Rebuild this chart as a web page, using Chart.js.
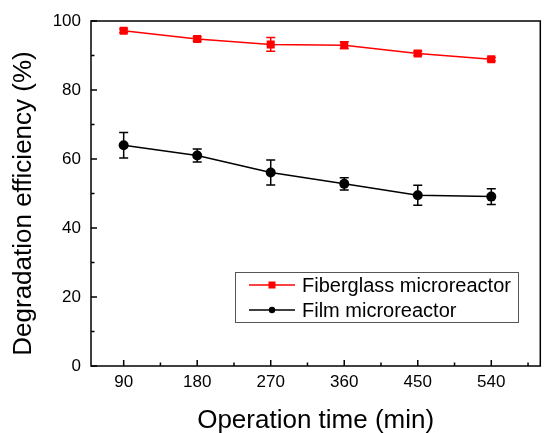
<!DOCTYPE html>
<html>
<head>
<meta charset="utf-8">
<script src="https://cdn.jsdelivr.net/npm/chart.js@4"></script>
<style>
  html, body { margin: 0; padding: 0; background: #fff; }
  #wrap { width: 546px; height: 433px; }
</style>
</head>
<body>
<div id="wrap"><canvas id="chart" width="546" height="433"></canvas></div>
<script>
const times = [90, 180, 270, 360, 450, 540];
const fiberglass = [97.2, 94.8, 93.2, 93.0, 90.6, 88.9];
const fiberglassErr = [0.5, 0.6, 2.0, 1.0, 0.6, 0.5];
const film = [64.0, 61.0, 56.1, 52.8, 49.5, 49.1];
const filmErr = [3.7, 1.9, 3.6, 1.8, 2.9, 2.3];
const yTicks = [0, 20, 40, 60, 80, 100];
const yTitle = "Degradation efficiency (%)";

const FONT = "'Liberation Sans', Arial, sans-serif";

// error bars + inward ticks + frame + legend + y title
const extras = {
  id: "extras",
  afterDatasetsDraw(chart) {
    const ctx = chart.ctx;
    const xs = chart.scales.x, ys = chart.scales.y;
    const a = chart.chartArea;
    ctx.save();
    // error bars
    chart.data.datasets.forEach((ds) => {
      ctx.strokeStyle = ds.borderColor;
      ctx.lineWidth = 1.5;
      ds.data.forEach((p, i) => {
        const e = ds.errors[i];
        const px = xs.getPixelForValue(p.x);
        const top = ys.getPixelForValue(p.y + e);
        const bot = ys.getPixelForValue(p.y - e);
        ctx.beginPath();
        ctx.moveTo(px, top); ctx.lineTo(px, bot);
        ctx.moveTo(px - 4.5, top); ctx.lineTo(px + 4.5, top);
        ctx.moveTo(px - 4.5, bot); ctx.lineTo(px + 4.5, bot);
        ctx.stroke();
      });
    });
    // frame
    ctx.strokeStyle = "#000";
    ctx.lineWidth = 1.5;
    ctx.strokeRect(a.left, a.top, a.right - a.left, a.bottom - a.top);
    // ticks
    ctx.beginPath();
    for (let v = 0; v <= 100; v += 10) {
      const py = ys.getPixelForValue(v);
      const len = v % 20 === 0 ? 6 : 3.5;
      ctx.moveTo(a.left, py); ctx.lineTo(a.left + len, py);
    }
    for (let v = 90; v <= 585; v += 45) {
      const px = xs.getPixelForValue(v);
      const len = v % 90 === 0 ? 6 : 3.5;
      ctx.moveTo(px, a.bottom); ctx.lineTo(px, a.bottom - len);
    }
    ctx.stroke();
    // y title (sits a little below the plot centre in the original)
    ctx.save();
    ctx.translate(24, (a.top + a.bottom) / 2 + 10);
    ctx.rotate(-Math.PI / 2);
    ctx.fillStyle = "#000";
    ctx.font = "26px " + FONT;
    ctx.textAlign = "center";
    ctx.textBaseline = "middle";
    ctx.fillText(yTitle, 0, 0);
    ctx.restore();
    // legend
    const lx = 235, ly = 272, lw = 283, lh = 50;
    ctx.lineWidth = 1;
    ctx.strokeStyle = "#555";
    ctx.fillStyle = "#fff";
    ctx.fillRect(lx, ly, lw, lh);
    ctx.strokeRect(lx + 0.5, ly + 0.5, lw, lh);
    chart.data.datasets.forEach((ds, i) => {
      const cy = ly + 13 + i * 25;
      ctx.strokeStyle = ds.borderColor;
      ctx.lineWidth = 1.5;
      ctx.beginPath();
      ctx.moveTo(249, cy); ctx.lineTo(295, cy);
      ctx.stroke();
      ctx.fillStyle = ds.borderColor;
      if (ds.pointStyle === "rect") {
        ctx.fillRect(268.5, cy - 3.5, 7, 7);
      } else {
        ctx.beginPath();
        ctx.arc(272, cy, 3.2, 0, Math.PI * 2);
        ctx.fill();
      }
      ctx.fillStyle = "#000";
      ctx.font = "20px " + FONT;
      ctx.textBaseline = "middle";
      ctx.textAlign = "left";
      ctx.fillText(ds.label, 302, cy + 1);
    });
    ctx.restore();
  }
};

new Chart(document.getElementById("chart"), {
  type: "line",
  data: {
    datasets: [
      {
        label: "Fiberglass microreactor",
        data: times.map((t, i) => ({ x: t, y: fiberglass[i] })),
        errors: fiberglassErr,
        borderColor: "#ff0000",
        backgroundColor: "#ff0000",
        borderWidth: 1.5,
        pointStyle: "rect",
        pointRadius: 5.7,
        pointBorderWidth: 0
      },
      {
        label: "Film microreactor",
        data: times.map((t, i) => ({ x: t, y: film[i] })),
        errors: filmErr,
        borderColor: "#000000",
        backgroundColor: "#000000",
        borderWidth: 1.5,
        pointStyle: "circle",
        pointRadius: 5,
        pointBorderWidth: 0
      }
    ]
  },
  options: {
    responsive: false,
    animation: false,
    layout: { padding: { top: 21, right: 1, left: 0, bottom: 0 } },
    plugins: { legend: { display: false }, tooltip: { enabled: false } },
    scales: {
      x: {
        type: "linear",
        min: 50,
        max: 600,
        afterBuildTicks: (s) => { s.ticks = times.map((v) => ({ value: v })); },
        afterFit: (s) => { s.height = 67; },
        grid: { display: false, drawTicks: false },
        border: { display: false },
        ticks: { color: "#000", font: { family: FONT, size: 17 }, padding: 6, maxRotation: 0 },
        title: { display: true, text: "Operation time (min)", color: "#000", font: { family: FONT, size: 26 }, padding: { top: 0, bottom: -3 } }
      },
      y: {
        min: 0,
        max: 100,
        afterBuildTicks: (s) => { s.ticks = yTicks.map((v) => ({ value: v })); },
        afterFit: (s) => { s.width = 91; },
        grid: { display: false, drawTicks: false },
        border: { display: false },
        ticks: { color: "#000", font: { family: FONT, size: 17 }, padding: 10 },
        title: { display: false }
      }
    }
  },
  plugins: [extras]
});
</script>
</body>
</html>
